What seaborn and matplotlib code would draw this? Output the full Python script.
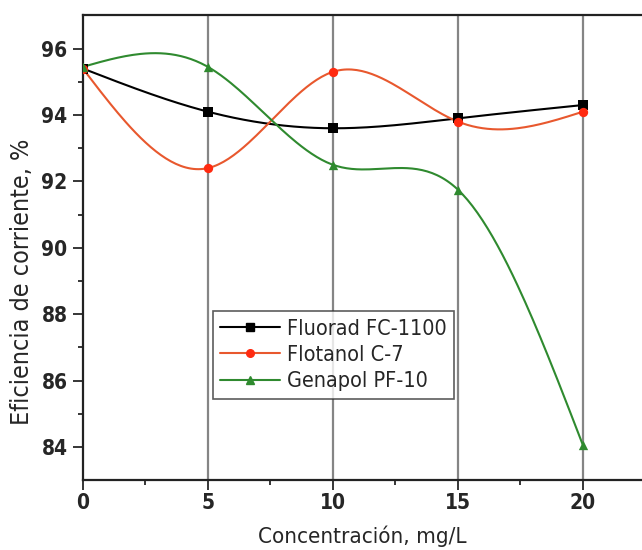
import numpy as np
import pandas as pd
import seaborn as sns
import matplotlib
matplotlib.use("Agg")
from matplotlib import pyplot as plt
from matplotlib.lines import Line2D

# datos
concentracion = [0, 5, 10, 15, 20]
fluorad = [95.4, 94.1, 93.6, 93.9, 94.3]
flotanol = [95.4, 92.4, 95.3, 93.8, 94.1]
genapol = [95.45, 95.45, 92.5, 91.75, 84.05]

series_names = ["Fluorad FC-1100", "Flotanol C-7", "Genapol PF-10"]
line_colors = ["black", "#e8582e", "#2f8a2f"]
marker_colors = ["black", "#ff2a10", "#2f8a2f"]
markers = ["s", "o", "^"]


def natural_spline(x, y, n=200):
    # curva suave tipo "spline" de Origin entre los puntos medidos
    x = np.asarray(x, float)
    y = np.asarray(y, float)
    m = len(x)
    h = np.diff(x)
    A = np.zeros((m, m))
    b = np.zeros(m)
    A[0, 0] = A[-1, -1] = 1
    for i in range(1, m - 1):
        A[i, i - 1] = h[i - 1]
        A[i, i] = 2 * (h[i - 1] + h[i])
        A[i, i + 1] = h[i]
        b[i] = 3 * ((y[i + 1] - y[i]) / h[i] - (y[i] - y[i - 1]) / h[i - 1])
    c = np.linalg.solve(A, b)
    xs = np.linspace(x[0], x[-1], n)
    ys = np.empty_like(xs)
    for k, xv in enumerate(xs):
        i = min(np.searchsorted(x, xv, side="right") - 1, m - 2)
        dx = xv - x[i]
        bi = (y[i + 1] - y[i]) / h[i] - h[i] * (2 * c[i] + c[i + 1]) / 3
        di = (c[i + 1] - c[i]) / (3 * h[i])
        ys[k] = y[i] + bi * dx + c[i] * dx ** 2 + di * dx ** 3
    return xs, ys


sns.set_style("ticks")
plt.rcParams["font.family"] = ["DejaVu Sans"]
plt.rcParams["font.stretch"] = "condensed"

fig = plt.figure(figsize=(6.42, 5.5), dpi=100)
ax = fig.add_axes([0.129, 0.127, 0.871, 0.845])

for xv in [5, 10, 15, 20]:
    ax.axvline(xv, color="#858585", lw=1.6, zorder=0)

for vals, name, lc, mc, mk in zip([fluorad, flotanol, genapol], series_names,
                                  line_colors, marker_colors, markers):
    xs, ys = natural_spline(concentracion, vals)
    curve = pd.DataFrame({"x": xs, "y": ys})
    pts = pd.DataFrame({"x": concentracion, "y": vals})
    sns.lineplot(data=curve, x="x", y="y", color=lc, lw=1.5, ax=ax, zorder=2)
    sns.scatterplot(data=pts, x="x", y="y", color=mc, marker=mk, s=45,
                    edgecolor=mc, linewidth=0, ax=ax, zorder=3)

ax.set_xlim(0, 22.36)
ax.set_ylim(83, 97)
ax.set_xticks([0, 5, 10, 15, 20])
ax.set_xticks([2.5, 7.5, 12.5, 17.5], minor=True)
ax.set_yticks([84, 86, 88, 90, 92, 94, 96])
ax.set_yticks([85, 87, 89, 91, 93, 95], minor=True)
ax.tick_params(axis="both", which="major", length=7, width=1.3, labelsize=15,
               direction="out", pad=4)
ax.tick_params(axis="x", which="major", pad=2)
ax.tick_params(axis="both", which="minor", length=3.5, width=1.3, direction="out")
for lab in ax.get_xticklabels() + ax.get_yticklabels():
    lab.set_fontweight("bold")

ax.spines["right"].set_visible(False)
for sp in ["left", "bottom", "top"]:
    ax.spines[sp].set_linewidth(1.6)
    ax.spines[sp].set_color("#222222")

ax.set_xlabel("Concentración, mg/L", fontsize=16, labelpad=9)
ax.set_ylabel("Eficiencia de corriente, %", fontsize=18)
ax.yaxis.set_label_coords(-0.088, 0.426)

handles = [Line2D([], [], color=lc, lw=1.5, marker=mk, markerfacecolor=mc,
                  markeredgecolor=mc, markersize=5.5)
           for lc, mc, mk in zip(line_colors, marker_colors, markers)]
leg = ax.legend(handles, series_names, loc="upper left", bbox_to_anchor=(0.232, 0.364),
                fontsize=15.5, frameon=True, fancybox=False, edgecolor="#333333",
                handlelength=2.8, handletextpad=0.3, borderpad=0.35, labelspacing=0.3,
                borderaxespad=0)
leg.get_frame().set_linewidth(1.2)

fig.savefig("out.png", dpi=100)
